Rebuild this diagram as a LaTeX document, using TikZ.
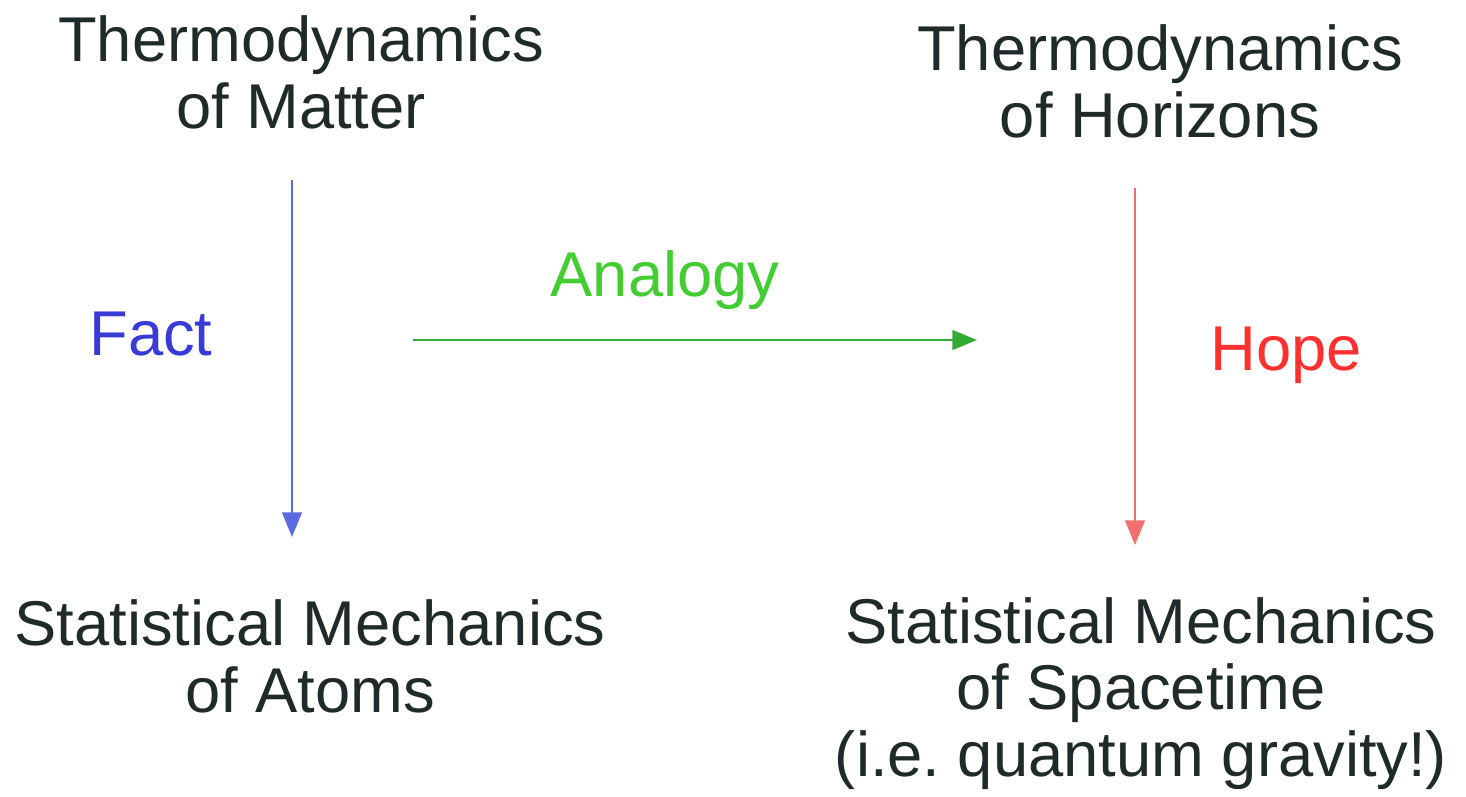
\documentclass[tikz,border=0pt]{standalone}
\usepackage{fontspec}
\setmainfont{Liberation Sans}
\usepackage{xcolor}
\usetikzlibrary{arrows.meta, positioning}
\definecolor{txtDark}{HTML}{1f2a2a}
\definecolor{factBlue}{HTML}{3a3ad8}
\definecolor{factLine}{HTML}{5a6ae0}
\definecolor{anaGreen}{HTML}{44cc33}
\definecolor{anaLine}{HTML}{33aa33}
\definecolor{hopeRed}{HTML}{ff3030}
\definecolor{hopeLine}{HTML}{f07070}
\frenchspacing

\begin{document}
\begin{tikzpicture}[x=0.01cm, y=-0.01cm,
    every node/.style={font=\fontsize{18}{18.8}\selectfont, inner sep=0pt},
    topic/.style={align=center, anchor=base, text=txtDark},
    linklabel/.style={anchor=base, text=#1},
    link/.style={draw=#1, line width=0.6pt,
        -{Triangle[length=7pt, width=5.6pt]}},
]

\useasboundingbox (0,0) rectangle (1466,796);

% Topics (anchored at the baseline of their last line)
\node[topic] (matter)    at (301, 128)  {Thermodynamics\\of Matter};
\node[topic] (horizons)  at (1160, 137) {Thermodynamics\\of Horizons};
\node[topic] (atoms)     at (310, 712)  {Statistical Mechanics\\of Atoms};
\node[topic] (spacetime) at (1141, 776) {Statistical Mechanics\\of Spacetime\\(i.e. quantum gravity!)};

% Arrow ends
\coordinate (factTop) at (292, 180);
\coordinate (factEnd) at (292, 537);
\coordinate (hopeTop) at (1135, 188);
\coordinate (hopeEnd) at (1135, 545);
\coordinate (anaStart) at (413, 340);
\coordinate (anaEnd)   at (977, 340);

% Links
\draw[link=factLine] (factTop) -- (factEnd);
\draw[link=hopeLine] (hopeTop) -- (hopeEnd);
\draw[link=anaLine]  (anaStart) -- (anaEnd);

% Labels
\node[linklabel=factBlue] (fact)    at (151, 355)  {Fact};
\node[linklabel=anaGreen] (analogy) at (665, 296)  {Analogy};
\node[linklabel=hopeRed]  (hope)    at (1286, 370) {Hope};

\end{tikzpicture}
\end{document}
